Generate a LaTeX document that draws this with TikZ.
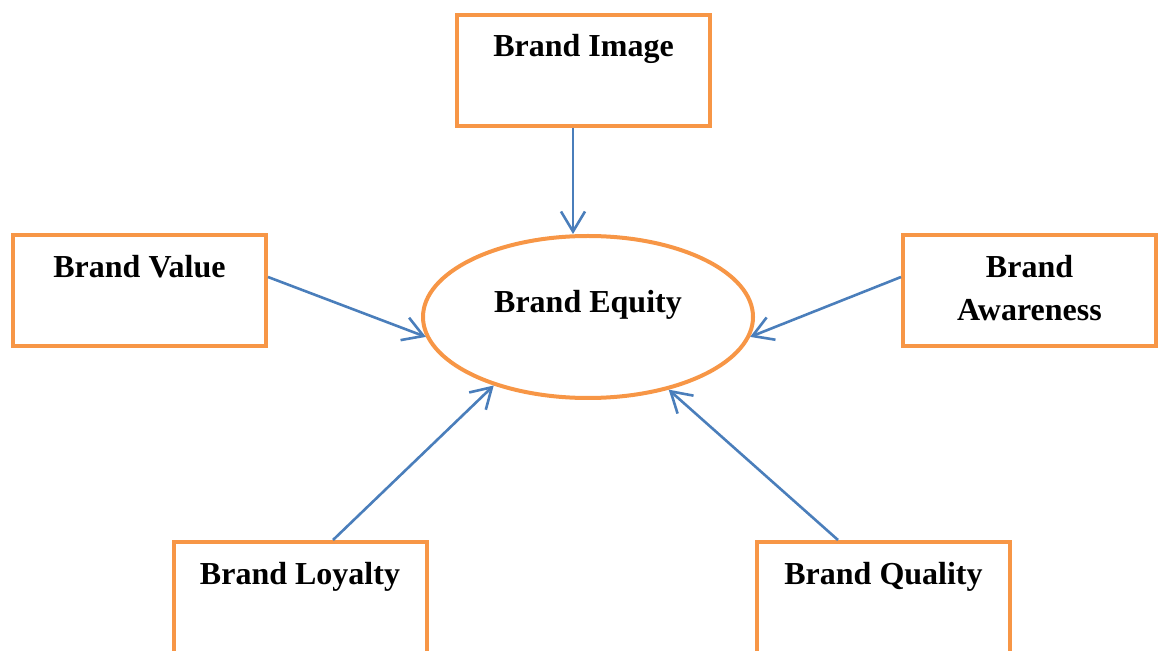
\documentclass[tikz,border=0pt]{standalone}
\usepackage{fontspec}
\setmainfont{Liberation Serif}
\usetikzlibrary{arrows.meta,shapes.geometric}
\definecolor{boxorange}{HTML}{F79646}
\definecolor{arrowblue}{HTML}{4A7EBB}

\begin{document}
\begin{tikzpicture}[x=0.5pt, y=-0.5pt, font=\fontsize{16}{21.5}\selectfont\bfseries,
		box/.style = {draw=boxorange, line width=2pt, minimum width=126.5pt, minimum height=55.5pt},
		core/.style = {draw=boxorange, ellipse, line width=2pt, minimum width=165pt, minimum height=81pt},
		title/.style = {anchor=base, align=center, inner sep=0pt},
		arr/.style = {draw=arrowblue, line width=1.3pt, -{Straight Barb[length=10pt,width=12pt]}}]
	\useasboundingbox (0,0) rectangle (1165,651);
	% the five boxes round the ellipse
	\node[box] (image) at (583.5,70.5) {};
	\node[box] (value) at (139.5,291) {};
	\node[box] (aware) at (1029.5,291) {};
	\node[box] (loyal) at (300,597.5) {};
	\node[box] (quality) at (883.5,597.5) {};
	\node[core] (equity) at (588,317) {};
	% texts sit near the top of each box
	\node[title] (imagetxt) at ([yshift=-22pt]image.north) {Brand Image};
	\node[title] (valuetxt) at ([yshift=-22pt]value.north) {Brand Value};
	\node[title] (awaretxt) at ([yshift=-43.5pt]aware.north) {Brand\\Awareness}; % base is the last line
	\node[title] (loyaltxt) at ([yshift=-22pt]loyal.north) {Brand Loyalty};
	\node[title] (qualitytxt) at ([yshift=-22pt]quality.north) {Brand Quality};
	\node[title] (equitytxt) at ([yshift=2pt]equity.center) {Brand Equity};
	% arrows into the ellipse
	\draw[arr] ([xshift=-5.25pt]image.south) -- ([xshift=-5.25pt]image.south |- equity.north);
	\draw[arr] ([yshift=7pt]value.east) -- (equity.187);
	\draw[arr] ([yshift=7pt]aware.west) -- (equity.353);
	\draw[arr] ([xshift=16.5pt]loyal.north) -- (equity.216);
	\draw[arr] ([xshift=-22.75pt]quality.north) -- (equity.318);
\end{tikzpicture}
\end{document}
